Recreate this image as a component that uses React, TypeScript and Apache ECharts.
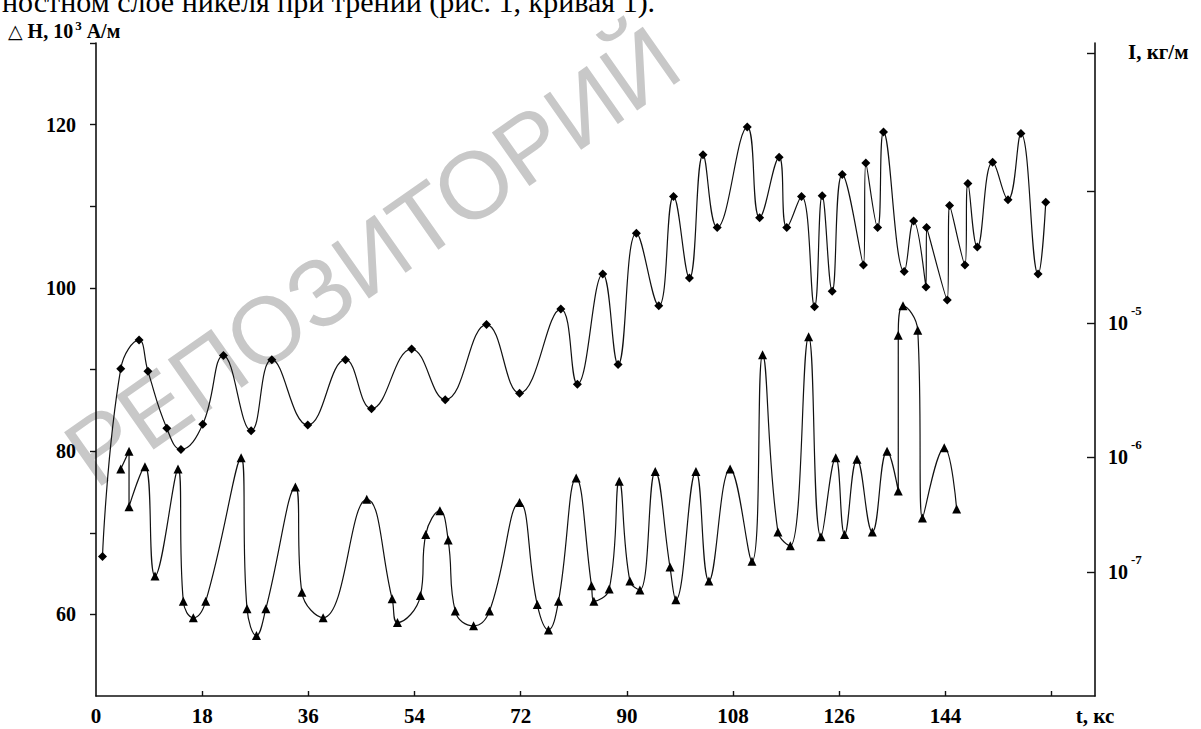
import React, { useEffect, useRef } from 'react';
import * as echarts from 'echarts';

// ---- data ----
// curve 1 (diamonds): ΔH, 10^3 A/м vs t, кс
const diamondT = [1.1, 4.2, 7.3, 8.8, 12.0, 14.4, 18.1, 21.6, 26.3, 29.8, 35.9, 42.3, 46.7, 53.5, 59.2, 66.2, 71.8, 78.8, 81.6, 85.9, 88.5, 91.6, 95.4, 97.9, 100.6, 102.9, 105.3, 110.4, 112.5, 115.8, 117.1, 119.6, 121.8, 123.1, 124.8, 126.5, 130.1, 130.5, 132.5, 133.5, 137.0, 138.6, 140.7, 140.8, 144.3, 144.7, 147.3, 147.8, 149.4, 152.0, 154.6, 156.8, 159.7, 161.0];
const diamondH = [67.1, 90.1, 93.6, 89.8, 82.8, 80.2, 83.3, 91.7, 82.5, 91.2, 83.2, 91.2, 85.2, 92.5, 86.3, 95.5, 87.1, 97.4, 88.2, 101.7, 90.6, 106.7, 97.8, 111.2, 101.2, 116.3, 107.4, 119.7, 108.6, 116.0, 107.4, 111.2, 97.7, 111.3, 99.6, 113.9, 102.8, 115.3, 107.4, 119.1, 102.0, 108.2, 100.1, 107.4, 98.5, 110.1, 102.8, 112.8, 105.0, 115.4, 110.8, 118.9, 101.7, 110.5];

// curve 2 (triangles): wear intensity I, plotted in the left-axis frame
const triangleT = [4.2, 5.6, 5.6, 8.3, 10.0, 13.9, 14.8, 16.5, 18.6, 24.6, 25.6, 27.2, 28.8, 33.8, 34.9, 38.5, 45.9, 50.2, 51.1, 55.0, 55.9, 58.3, 59.7, 60.9, 64.0, 66.7, 71.8, 74.8, 76.7, 78.4, 81.4, 84.0, 84.4, 87.0, 88.7, 90.5, 92.2, 94.8, 97.3, 98.3, 101.7, 103.9, 107.5, 111.2, 113.0, 115.6, 117.7, 120.8, 122.9, 125.4, 126.9, 129.0, 131.6, 134.1, 136.0, 136.0, 136.8, 139.3, 140.1, 143.8, 145.9];
const triangleV = [77.8, 80.0, 73.2, 78.1, 64.7, 77.8, 61.6, 59.6, 61.6, 79.2, 60.7, 57.4, 60.7, 75.6, 62.7, 59.6, 74.1, 61.9, 59.0, 62.3, 69.8, 72.7, 69.1, 60.4, 58.6, 60.4, 73.7, 61.2, 58.1, 61.6, 76.7, 63.5, 61.6, 63.1, 76.3, 64.1, 63.0, 77.5, 65.8, 61.8, 77.5, 64.1, 77.8, 66.5, 91.8, 70.1, 68.4, 94.0, 69.5, 79.2, 69.8, 79.0, 70.1, 80.0, 75.1, 94.2, 97.8, 94.8, 71.8, 80.4, 72.9];

// axes
const X_MIN = 0;
const X_MAX = 169.35;
const xTickValues = [18, 36, 54, 72, 90, 108, 126, 144, 162];
const xLabelValues = [0, 18, 36, 54, 72, 90, 108, 126, 144];
const xAxisTitle = 't, кс';

const Y_MIN = 50;
const Y_MAX = 130;
const leftTickValues = [60, 70, 80, 90, 100, 110, 120, 130];
const leftLabelValues = [60, 80, 100, 120];

// right (logarithmic, hand-drawn) axis: tick positions in left-axis units and their exponents
const rightTickPos = [128.8, 111.85, 95.65, 79.23, 65.15];
const rightTickExp = [-3, -4, -5, -6, -7];
const rightLabelPos = [95.65, 79.23, 65.15];

const SERIF = '"Liberation Serif", "Times New Roman", "DejaVu Serif", serif';
const INK = '#111';

export default function App() {
  const ref = useRef<HTMLDivElement>(null);

  useEffect(() => {
    if (!ref.current) return;
    const chart = echarts.init(ref.current, undefined, { renderer: 'svg' });

    const labelStyle = {
      color: '#000',
      fontFamily: SERIF,
      fontWeight: 'bold' as const,
      fontSize: 20,
    };

    const option: any = {
      animation: false,
      backgroundColor: '#fff',
      grid: { left: 96, top: 43, right: 106, bottom: 33, containLabel: false },
      xAxis: {
        type: 'value',
        min: X_MIN,
        max: X_MAX,
        splitLine: { show: false },
        axisLine: { show: true, lineStyle: { color: INK, width: 1.6 } },
        axisTick: {
          show: true,
          inside: true,
          length: 5,
          customValues: xTickValues,
          lineStyle: { color: INK, width: 1.4 },
        },
        axisLabel: {
          ...labelStyle,
          fontSize: 21,
          margin: 9,
          customValues: [...xLabelValues, X_MAX],
          formatter: (v: number) => (v >= X_MAX - 0.01 ? xAxisTitle : String(v)),
        },
      },
      yAxis: [
        {
          type: 'value',
          position: 'left',
          min: Y_MIN,
          max: Y_MAX,
          splitLine: { show: false },
          axisLine: { show: true, lineStyle: { color: INK, width: 1.6 } },
          axisTick: {
            show: true,
            inside: false,
            length: 6,
            customValues: leftTickValues,
            lineStyle: { color: INK, width: 1.4 },
          },
          axisLabel: {
            ...labelStyle,
            margin: 20,
            customValues: leftLabelValues,
            formatter: (v: number) => String(v),
          },
        },
        {
          type: 'value',
          position: 'right',
          min: Y_MIN,
          max: Y_MAX,
          splitLine: { show: false },
          axisLine: { show: true, onZero: false, lineStyle: { color: INK, width: 1.6 } },
          axisTick: {
            show: true,
            inside: true,
            length: 8,
            customValues: rightTickPos,
            lineStyle: { color: INK, width: 1.4 },
          },
          axisLabel: {
            margin: 13,
            customValues: rightLabelPos,
            formatter: (v: number) => {
              let best = 0;
              rightTickPos.forEach((p, i) => {
                if (Math.abs(p - v) < Math.abs(rightTickPos[best] - v)) best = i;
              });
              return '{b|10}{s|' + rightTickExp[best] + '}';
            },
            rich: {
              b: { fontFamily: SERIF, fontWeight: 'bold', fontSize: 20, color: '#000' },
              s: {
                fontFamily: SERIF,
                fontWeight: 'bold',
                fontSize: 13,
                color: '#000',
                padding: [0, 0, 26, 3],
              },
            },
          },
        },
      ],
      graphic: [
        {
          type: 'text',
          silent: true,
          x: 2,
          y: 16,
          style: {
            text: 'ностном слое никеля при трении (рис. 1, кривая 1).',
            font: '30px ' + SERIF,
            fill: '#000',
            align: 'left',
            verticalAlign: 'bottom',
          },
        },
        {
          type: 'text',
          silent: true,
          x: 372,
          y: 256,
          rotation: (35 * Math.PI) / 180,
          style: {
            text: 'РЕПОЗИТОРИЙ',
            font: '95px "Liberation Sans", Arial, sans-serif',
            fill: '#c8c8c8',
            align: 'center',
            verticalAlign: 'middle',
          },
        },
        {
          type: 'text',
          silent: true,
          x: 8,
          y: 42,
          style: {
            text: '{t|△}{a| H, 10}{s|3}{a| А/м}',
            align: 'left',
            verticalAlign: 'bottom',
            rich: {
              t: { fontFamily: '"DejaVu Sans", sans-serif', fontSize: 19, color: '#000' },
              a: { fontFamily: SERIF, fontWeight: 'bold', fontSize: 20, color: '#000' },
              s: { fontFamily: SERIF, fontWeight: 'bold', fontSize: 13, color: '#000', padding: [0, 0, 10, 2] },
            },
          },
        },
        {
          type: 'text',
          silent: true,
          x: 1128,
          y: 52,
          style: {
            text: 'I, кг/м',
            font: 'bold 21px ' + SERIF,
            fill: '#000',
            align: 'left',
            verticalAlign: 'middle',
          },
        },
      ],
      series: [
        {
          type: 'line',
          name: 'ΔH',
          yAxisIndex: 0,
          data: diamondT.map((t, i) => [t, diamondH[i]]),
          smooth: 0.45,
          symbol: 'diamond',
          symbolSize: 9,
          showAllSymbol: true,
          itemStyle: { color: '#000' },
          lineStyle: { color: INK, width: 1.2 },
          z: 3,
        },
        {
          type: 'line',
          name: 'I',
          yAxisIndex: 1,
          data: triangleT.map((t, i) => [t, triangleV[i]]),
          smooth: 0.45,
          symbol: 'triangle',
          symbolSize: 9,
          showAllSymbol: true,
          itemStyle: { color: '#000' },
          lineStyle: { color: INK, width: 1.2 },
          z: 3,
        },
      ],
    };

    chart.setOption(option);
    return () => chart.dispose();
  }, []);

  return (
    <div
      ref={ref}
      style={{ position: 'absolute', left: 0, top: 0, width: 1201, height: 729, background: '#fff' }}
    />
  );
}
